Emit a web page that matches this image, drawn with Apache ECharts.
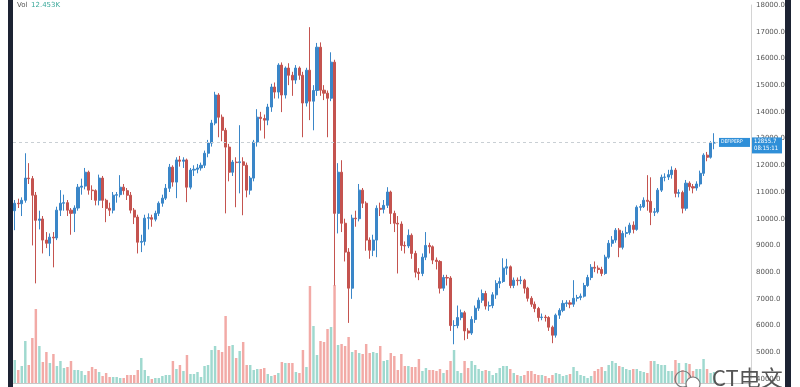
<!DOCTYPE html>
<html><head><meta charset="utf-8">
<script src="https://cdn.jsdelivr.net/npm/echarts@6/dist/echarts.min.js"></script>
<style>html,body{margin:0;padding:0;background:#fff}#c{width:800px;height:387px}</style>
</head><body><div id="c"></div>
<script>
// ---- data ----
const symbolName = 'DEFIPERP';
const lastPrice = 12855.7;
const lastTime = '08:15:11';
const volLabel = 'Vol';
const volValue = '12.453K';
const priceTicks = [4000, 18000, 1000]; // min, max, step
const slotCount = 210;
const categories = Array.from({length: slotCount}, (_, i) => 'P' + (i + 1));
// [open, close, low, high]
const ohlc = [
[10300,10580,9570,10700],[10580,10560,10400,10750],[10560,10690,10100,10800],[10690,11520,10600,12450],[11520,11500,11300,12080],
[11500,10880,9000,11600],[10880,9940,7580,11000],[9940,9990,9600,10300],[9990,9200,8700,10100],[9200,9080,8900,9500],
[9080,9310,8600,9450],[9310,9280,8180,9500],[9280,10320,9200,10450],[10320,10580,10100,11070],[10580,10600,10300,10900],
[10600,10320,10100,10700],[10320,10200,9400,10400],[10200,10400,9500,10500],[10400,11180,10300,11300],[11180,11220,10900,11500],
[11220,11740,11100,11900],[11740,11070,10900,11800],[11070,11050,10700,11250],[11050,10690,10500,11100],[10690,11520,10500,11650],
[11520,10690,10400,11600],[10690,10390,9870,10750],[10390,10320,10100,10600],[10320,10880,10200,11000],[10880,10900,10600,11000],
[10900,11180,10800,11630],[11180,11050,10900,11300],[11050,10880,10700,11150],[10880,10320,10200,11000],[10320,10060,9800,10400],
[10060,9120,8700,10150],[9120,9150,8750,9400],[9150,10020,9000,10150],[10020,10040,9600,10200],[10040,9980,9700,10150],
[9980,10200,9900,10300],[10200,10580,10100,10650],[10580,10770,10450,10900],[10770,11140,10700,11300],[11140,11930,11000,12050],
[11930,11370,11200,12000],[11370,12200,10770,12300],[12200,12150,11950,12350],[12150,12200,11900,12300],[12200,11180,10620,12250],
[11180,11820,11100,11900],[11820,11850,11600,12000],[11850,11900,11700,12050],[11900,12000,11800,12100],[12000,12450,11900,12550],
[12450,12830,12300,12950],[12830,13580,12700,13700],[13580,14630,13500,14750],[14630,13800,13050,14700],[13800,13310,12900,13900],
[13310,12680,10200,13400],[12680,11740,11400,12800],[11740,12120,11600,12200],[12120,12100,10430,12300],[12100,12130,10950,13500],
[12130,12000,10130,12300],[12000,11070,10800,12100],[11070,11520,10900,11600],[11520,12870,11400,12950],[12870,13800,12700,14100],
[13800,13750,13300,14000],[13750,13690,13000,13900],[13690,14180,13500,14300],[14180,14930,14000,15050],[14930,14740,14500,15100],
[14740,15750,14500,15820],[15750,14630,13990,15850],[14630,15640,14500,15700],[15640,15370,15000,15820],[15370,15190,14600,15500],
[15190,15640,15050,15750],[15640,15370,15200,15700],[15370,14330,13050,15500],[14330,15560,14200,15650],[15560,14400,13690,17170],
[14400,14800,13310,15000],[14800,16420,14600,16580],[16420,14810,14600,16600],[14810,14700,14440,15000],[14700,14510,13050,14800],
[14510,15860,14400,16230],[15860,10200,7500,15950],[10200,11740,9450,12080],[11740,9830,9500,12190],[9830,8750,8400,10000],
[8750,7400,6100,8900],[7400,10020,7000,10150],[10020,10000,9700,10300],[10000,11070,9900,11300],[11070,10580,10400,11150],
[10580,9200,8800,10650],[9200,8820,8500,9300],[8820,9200,8600,9400],[9200,10390,8560,10500],[10390,10350,10100,10600],
[10350,10500,10200,10700],[10500,11000,10400,11180],[11000,10200,9800,11050],[10200,9830,9500,10300],[9830,9800,7950,10100],
[9800,9000,8800,9900],[9000,8980,8700,9150],[8980,9380,8900,9600],[9380,8700,8500,9450],[8700,8000,7800,8800],
[8000,7950,7700,8150],[7950,8560,7850,8700],[8560,9000,8450,9500],[9000,8950,8700,9100],[8950,8450,8300,9000],
[8450,8400,8100,8550],[8400,7400,7200,8450],[7400,7800,7300,7900],[7800,7780,7500,7900],[7780,6000,5800,7850],
[6000,6000,5300,6200],[6000,6300,5900,6750],[6300,6480,6200,6600],[6480,5800,5450,6550],[5800,5720,5500,5900],
[5720,6230,5650,6350],[6230,6650,6100,6750],[6650,6950,6550,7050],[6950,7200,6850,7350],[7200,6730,6600,7300],
[6730,6750,6550,6900],[6750,7150,6650,7250],[7150,7580,7000,7700],[7580,7650,7400,7800],[7650,8150,7600,8520],
[8150,8200,7900,8500],[8200,7500,7400,8250],[7500,7700,7400,7800],[7700,7680,7500,7800],[7680,7700,7550,7850],
[7700,7400,7200,7750],[7400,7020,6900,7450],[7020,6800,6700,7100],[6800,6640,6500,6900],[6640,6300,6150,6700],
[6300,6320,6200,6450],[6320,6300,6150,6400],[6300,5940,5800,6350],[5940,5640,5340,6000],[5640,6390,5550,6450],
[6390,6570,6250,6650],[6570,6830,6500,6950],[6830,6850,6700,6950],[6850,6800,6650,6950],[6800,7020,6700,7700],
[7020,7050,6900,7150],[7050,7100,6950,7200],[7100,7500,7050,7600],[7500,7800,7450,7900],[7800,8180,7700,8300],
[8180,8150,8000,8400],[8150,8100,7950,8250],[8100,7950,7850,8200],[7950,8560,7900,8650],[8560,9080,8500,9200],
[9080,9200,8950,9350],[9200,9570,9100,9650],[9570,8930,8560,9650],[8930,9450,8850,9550],[9450,9480,9300,9700],
[9480,9760,9400,9850],[9760,9600,9450,9900],[9600,10430,9550,10500],[10430,10450,10300,10550],[10450,10690,10400,10800],
[10690,10650,10300,11630],[10650,10240,9760,11550],[10240,10260,10100,10400],[10260,11070,10200,11150],[11070,11550,11000,11650],
[11550,11560,11400,11700],[11560,11650,11450,11830],[11650,11820,11500,11960],[11820,10950,10800,11900],[10950,10980,10800,11100],
[10980,10390,10200,11050],[10390,11330,10300,11450],[11330,11200,11050,11400],[11200,11150,10950,11300],[11150,11300,11050,11400],
[11300,11700,11200,11800],[11700,12380,11600,12450],[12380,12300,12150,12500],[12300,12830,12250,12900],[12830,12855.7,12600,13200]
];
const volumes = [
23,13,17,42,18,45,74,37,21,31,20,29,17,22,15,16,22,13,13,12,
8,12,16,14,11,7,10,6,6,6,5,5,8,8,8,13,25,13,7,4,
5,5,7,8,8,22,14,18,12,28,9,9,11,6,17,18,33,37,33,31,
67,37,38,25,32,41,18,18,13,14,14,15,9,7,8,10,21,20,20,20,
11,10,33,16,97,57,28,42,41,54,56,98,38,39,37,46,31,33,30,29,
39,30,31,30,37,22,23,30,27,13,29,17,17,16,16,24,12,15,13,13,
12,14,10,13,22,33,12,10,22,15,22,18,14,12,13,12,8,10,15,17,
17,14,10,8,7,8,12,12,9,8,8,7,5,8,10,9,7,8,9,16,
12,8,7,5,7,12,14,16,12,18,22,20,17,16,14,13,14,14,12,11,
10,22,22,19,18,18,12,12,23,20,13,20,19,12,14,14,24,14,10,11
];

// ---- colours ----
const UP = '#3a86c8', DOWN = '#c4534f';
const VUP = '#9fd9cf', VDOWN = '#f2aaa6';

const chart = echarts.init(document.getElementById('c'), null, {renderer: 'canvas'});
const option = {
  animation: false,
  backgroundColor: '#ffffff',
  grid: [
    {left: 13, right: 49, top: 5, height: 374},
    {left: 13, right: 49, top: 283, height: 100}
  ],
  xAxis: [
    {type: 'category', gridIndex: 0, data: categories, boundaryGap: true,
     axisLine: {show: false}, axisTick: {show: false}, axisLabel: {show: false}, splitLine: {show: false}},
    {type: 'category', gridIndex: 1, data: categories, boundaryGap: true,
     axisLine: {show: true, lineStyle: {color: '#c8c8c8'}}, axisTick: {show: false}, axisLabel: {show: false}}
  ],
  yAxis: [
    {type: 'value', gridIndex: 0, position: 'right', min: priceTicks[0], max: priceTicks[1], interval: priceTicks[2],
     axisLine: {show: true, lineStyle: {color: '#d4d4d4'}}, axisTick: {show: false}, splitLine: {show: false},
     axisLabel: {fontSize: 7, color: '#555', margin: 5, fontFamily: 'DejaVu Sans', formatter: v => v.toFixed(1)}},
    {type: 'value', gridIndex: 1, min: 0, max: 100, show: false, splitLine: {show: false}}
  ],
  series: [
    {type: 'candlestick', xAxisIndex: 0, yAxisIndex: 0, data: ohlc, barWidth: '72%',
     itemStyle: {color: UP, color0: DOWN, borderColor: UP, borderColor0: DOWN, borderWidth: 1},
     markLine: {silent: true, symbol: 'none', label: {show: false},
       lineStyle: {type: [3, 3], color: '#c9cfd4', width: 1},
       data: [{yAxis: lastPrice}]}},
    {type: 'bar', xAxisIndex: 1, yAxisIndex: 1, data: volumes, barWidth: '70%',
     itemStyle: {color: p => (ohlc[p.dataIndex][1] >= ohlc[p.dataIndex][0] ? VUP : VDOWN)}}
  ]
};
chart.setOption(option);

const py = chart.convertToPixel({yAxisIndex: 0}, lastPrice);
chart.setOption({
  graphic: [
    {type: 'rect', left: 8, top: 0, shape: {width: 5, height: 387}, style: {fill: '#1d2333'}, z: 100},
    {type: 'rect', left: 785, top: 0, shape: {width: 6, height: 387}, style: {fill: '#1d2333'}, z: 100},
    {type: 'text', left: 17, top: 2, style: {text: volLabel, fontSize: 7, fill: '#555', fontFamily: 'DejaVu Sans'}, z: 100},
    {type: 'text', left: 31, top: 2, style: {text: volValue, fontSize: 7, fill: '#3aa89a', fontFamily: 'DejaVu Sans'}, z: 100},
    {type: 'rect', left: 719, top: py - 4.5, shape: {width: 31, height: 9}, style: {fill: '#2f8fd8'}, z: 100},
    {type: 'text', left: 721, top: py - 3, style: {text: symbolName, fontSize: 5, fill: '#fff', fontFamily: 'DejaVu Sans Condensed'}, z: 101},
    {type: 'rect', left: 752, top: py - 5, shape: {width: 30, height: 16}, style: {fill: '#2f8fd8'}, z: 100},
    {type: 'text', left: 754, top: py - 3.5, style: {text: lastPrice.toFixed(1), fontSize: 6, fill: '#fff', fontFamily: 'DejaVu Sans Condensed'}, z: 101},
    {type: 'text', left: 754, top: py + 3.5, style: {text: lastTime, fontSize: 6, fill: '#fff', fontFamily: 'DejaVu Sans Condensed'}, z: 101},
    {type: 'circle', shape: {cx: 683, cy: 379, r: 8}, style: {fill: 'none', stroke: '#777', lineWidth: 1.2}, z: 100},
    {type: 'circle', shape: {cx: 693, cy: 384, r: 7}, style: {fill: '#fff', stroke: '#777', lineWidth: 1.2}, z: 101},
    {type: 'text', left: 712, top: 367, style: {text: 'CT电文', fontSize: 22, fill: '#555', fontFamily: 'Noto Sans CJK SC'}, z: 100}
  ]
});
</script></body></html>
